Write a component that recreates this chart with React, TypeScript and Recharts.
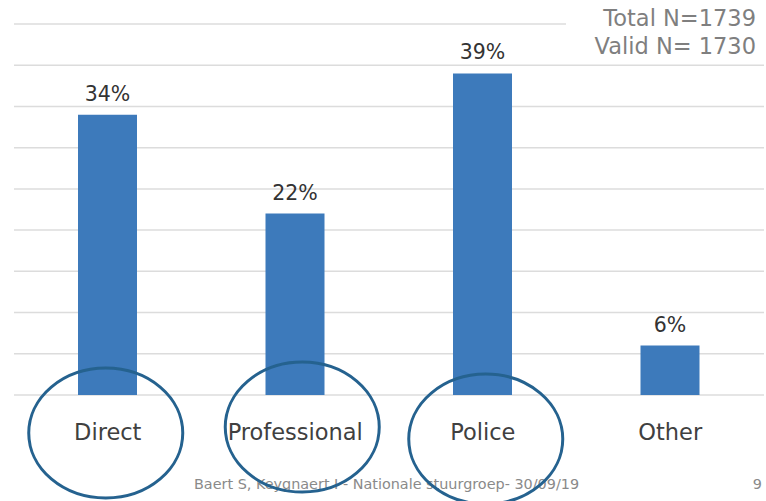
import React from "react";
import { BarChart, Bar, XAxis, YAxis, CartesianGrid, LabelList } from "recharts";

const categories = ["Direct", "Professional", "Police", "Other"];
const percentages = [34, 22, 39, 6];
const circled = [true, true, true, false];
const yTicks = [0, 5, 10, 15, 20, 25, 30, 35, 40, 45];
const totalN = 1739;
const validN = 1730;
const footerText = "Baert S, Keygnaert I - Nationale stuurgroep- 30/09/19";
const pageNumber = "9";

const data = categories.map((name, i) => ({ name, value: percentages[i] }));

// hand-drawn rings are a little off-centre from each tick
const ringShift = [
  [-2, 38],
  [7, 32],
  [3, 44],
  [0, 38],
];

const FONT = "'DejaVu Sans', Verdana, sans-serif";
const BAR = "#3d7abb";
const RING = "#25628f";

function CategoryTick(props: any) {
  const { x, y, payload, index } = props;
  const [dx, dy] = ringShift[index] || [0, 38];
  return (
    <g>
      <text
        x={x}
        y={y + 45}
        textAnchor="middle"
        fill="#404040"
        fontSize={22.5}
        fontFamily={FONT}
      >
        {payload.value}
      </text>
      {circled[index] && (
        <ellipse
          cx={x + dx}
          cy={y + dy}
          rx={77}
          ry={65}
          fill="none"
          stroke={RING}
          strokeWidth={3}
        />
      )}
    </g>
  );
}

export default function App() {
  return (
    <div
      style={{
        position: "absolute",
        left: 0,
        top: 0,
        width: 766,
        height: 501,
        background: "#fff",
        overflow: "hidden",
        fontFamily: FONT,
      }}
    >
      <div
        style={{
          position: "absolute",
          left: 194,
          top: 476,
          fontSize: 14.4,
          color: "#8a8a8a",
          whiteSpace: "nowrap",
        }}
      >
        {footerText}
      </div>
      <div
        style={{
          position: "absolute",
          right: 4,
          top: 476,
          fontSize: 14.4,
          color: "#8a8a8a",
        }}
      >
        {pageNumber}
      </div>
      <div style={{ position: "absolute", left: 0, top: 0 }}>
        <BarChart
          width={766}
          height={501}
          data={data}
          margin={{ top: 24, right: 2, left: 14, bottom: 0 }}
          barSize={59}
        >
          <CartesianGrid
            vertical={false}
            stroke="#dcdcdc"
            strokeWidth={1.5}
          />
          <YAxis hide domain={[0, 45]} ticks={yTicks} />
          <Bar dataKey="value" fill={BAR} isAnimationActive={false}>
            <LabelList
              dataKey="value"
              position="top"
              offset={14}
              formatter={(v: any) => `${v}%`}
              fill="#333"
              fontSize={20.5}
              fontFamily={FONT}
            />
          </Bar>
          <XAxis
            dataKey="name"
            height={106}
            axisLine={false}
            tickLine={false}
            tickSize={0}
            tickMargin={0}
            interval={0}
            tick={<CategoryTick />}
          />
        </BarChart>
      </div>
      <div
        style={{
          position: "absolute",
          left: 566,
          top: 0,
          width: 200,
          height: 58,
          background: "#fff",
        }}
      >
        <div
          style={{
            position: "absolute",
            right: 10,
            top: 4,
            textAlign: "right",
            fontSize: 22.5,
            lineHeight: "28px",
            color: "#7f7f7f",
            whiteSpace: "nowrap",
          }}
        >
          <div>Total N={totalN}</div>
          <div>Valid N= {validN}</div>
        </div>
      </div>
    </div>
  );
}
